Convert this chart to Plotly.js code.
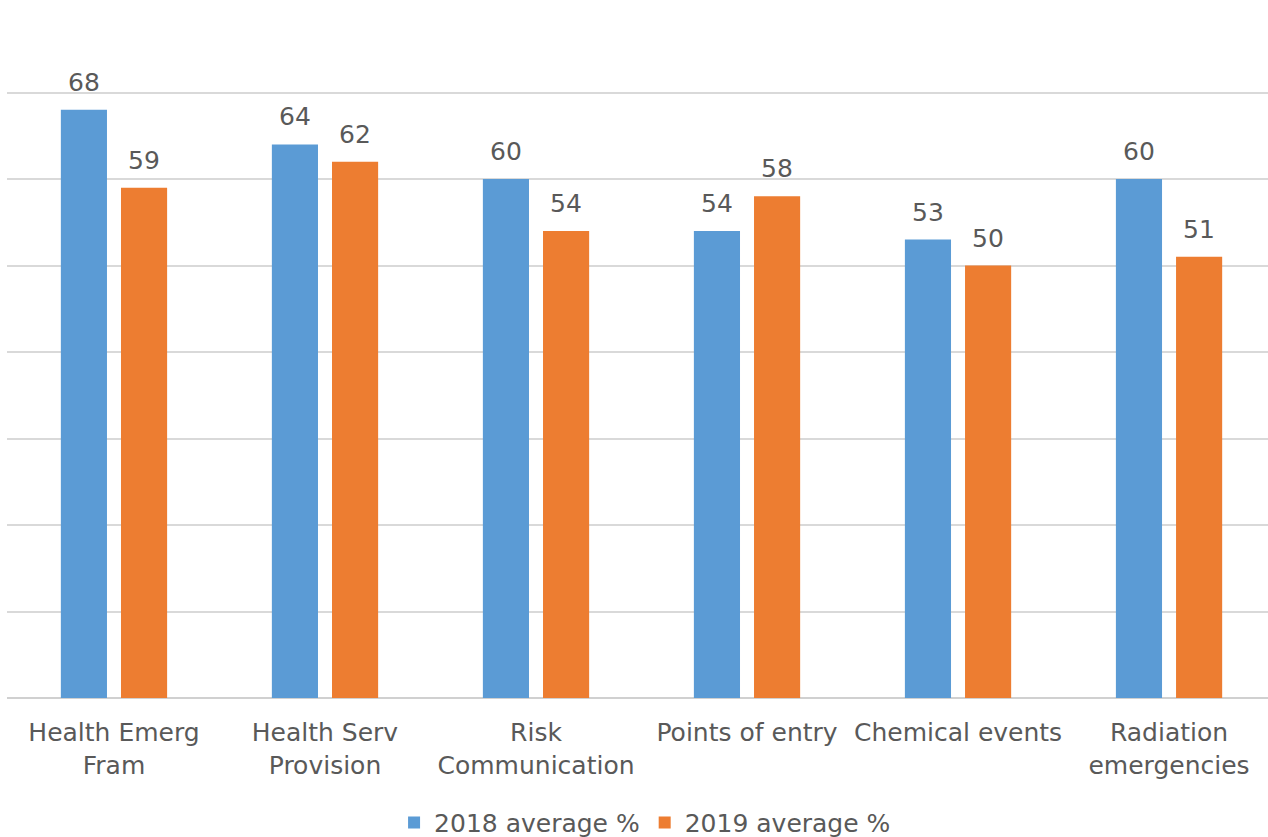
<!DOCTYPE html>
<html>
<head>
<meta charset="utf-8">
<script src="https://cdn.plot.ly/plotly-3.0.1.min.js"></script>
<style>html,body{margin:0;padding:0;background:#fff;}#chart{width:1268px;height:837px;}</style>
</head>
<body>
<div id="chart"></div>
<script>
const categories = ["Health Emerg<br>Fram", "Health Serv<br>Provision", "Risk<br>Communication", "Points of entry", "Chemical events", "Radiation<br>emergencies"];
const seriesNames = ["2018 average %", "2019 average %"];
const values2018 = [68, 64, 60, 54, 53, 60];
const values2019 = [59, 62, 54, 58, 50, 51];
const colors = ["#5B9BD5", "#ED7D31"];

const font = "DejaVu Sans, sans-serif";
const textColor = "#595959";

const traces = [values2018, values2019].map((vals, i) => ({
  type: "bar",
  name: seriesNames[i],
  x: categories,
  y: vals,
  marker: {color: colors[i]},
  hoverinfo: "skip"
}));

const annotations = [];
[values2018, values2019].forEach((vals, i) => {
  vals.forEach((v, j) => {
    annotations.push({
      x: categories[j], y: v, xref: "x", yref: "y",
      text: String(v), showarrow: false,
      xshift: i === 0 ? -30 : 30, yshift: 11, yanchor: "bottom",
      font: {family: font, size: 25, color: textColor}
    });
  });
});

const layout = {
  width: 1268, height: 837,
  margin: {l: 7, r: 0, t: 6, b: 139, autoexpand: false},
  paper_bgcolor: "#fff", plot_bgcolor: "#fff",
  barmode: "group",
  bargap: 0.43,
  bargroupgap: 0.233,
  showlegend: true,
  legend: {orientation: "h", x: 0.506, xanchor: "center", yref: "container", y: 0.017, yanchor: "middle",
           font: {family: font, size: 25, color: textColor}, traceorder: "normal"},
  xaxis: {type: "category", range: [-0.507, 5.469], showgrid: false, showline: false, zeroline: false, ticks: "", automargin: false,
          tickfont: {family: font, size: 25, color: textColor}, ticklabelstandoff: 17},
  yaxis: {range: [0, 80], dtick: 10, showticklabels: false, gridcolor: "#D9D9D9", gridwidth: 2,
          zeroline: true, zerolinecolor: "#D0D0D0", zerolinewidth: 2, fixedrange: true, automargin: false},
  annotations: annotations
};

Plotly.newPlot("chart", traces, layout, {displayModeBar: false, staticPlot: true});
</script>
</body>
</html>
